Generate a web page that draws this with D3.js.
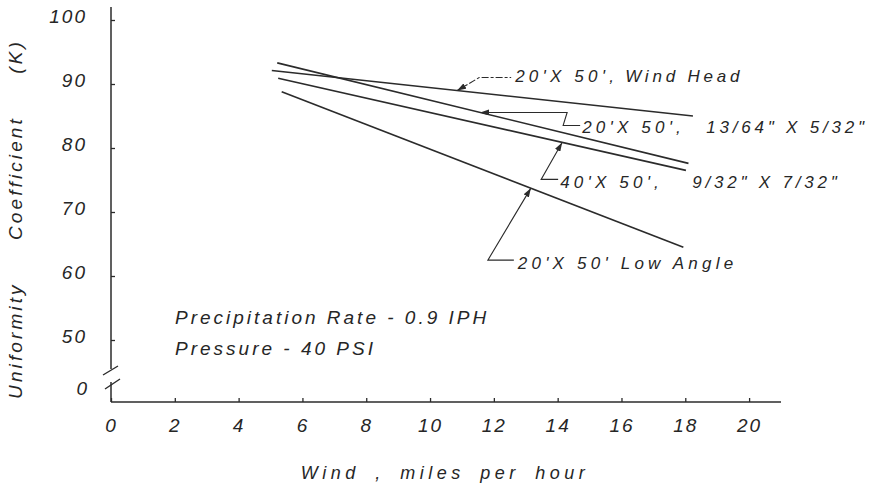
<!DOCTYPE html>
<html>
<head>
<meta charset="utf-8">
<script src="https://cdn.jsdelivr.net/npm/d3@7"></script>
<style>
    body { margin: 0; background: #fff; }
    text { font-family: "Liberation Sans", Arial, sans-serif; font-style: italic; fill: #262626; }
</style>
</head>
<body>
<div id="chart"></div>
<script>
// values (wind in mph, uniformity coefficient K)
const seriesNames = ["20'X 50', Wind Head", "20'X 50', 13/64\" X 5/32\"", "40'X 50', 9/32\" X 7/32\"", "20'X 50' Low Angle"];
const windStart = [5.04, 5.21, 5.24, 5.35];
const windEnd = [18.24, 18.1, 18.02, 17.94];
const kStart = [92.1, 93.3, 90.9, 88.8];
const kEnd = [85.0, 77.6, 76.5, 64.5];
const arrowWind = [10.85, 11.57, 14.14, 13.16];
const labelFirst = ["20'X 50',", "20'X 50',", "40'X 50',", "20'X 50' Low Angle"];
const labelSecond = ["Wind Head", "13/64\" X 5/32\"", "9/32\" X 7/32\"", ""];
const xTicks = [0, 2, 4, 6, 8, 10, 12, 14, 16, 18, 20];
const yTicks = [50, 60, 70, 80, 90, 100];
const notes = ["Precipitation Rate - 0.9 IPH", "Pressure - 40 PSI"];

// leader layout, relative to the arrow tip
const leaders = [
    { pts: [[0, 0], [22, -13], [54, -13]], tx: 58, ty: -9, tx2: 110, dash: "7,2,3,2" },
    { pts: [[0, 0], [87, 0], [83, 13], [100, 13]], tx: 102, ty: 21, tx2: 124, dash: null },
    { pts: [[0, 0], [-21, 37], [-4, 37]], tx: -2, ty: 46, tx2: 132, dash: null },
    { pts: [[0, 0], [-43, 72], [-17, 72]], tx: -13, ty: 81, tx2: 0, dash: null }
];

const width = 872, height = 487;
const x = d3.scaleLinear().domain([0, 21]).range([111, 781]);
const y = d3.scaleLinear().domain([50, 100]).range([340, 20]);
const baseY = 402;
const ink = "#2b2b2b";

const svg = d3.select("#chart").append("svg")
    .attr("width", width)
    .attr("height", height);

svg.append("defs").append("marker")
    .attr("id", "arrow")
    .attr("viewBox", "0 0 9 6")
    .attr("refX", 9)
    .attr("refY", 3)
    .attr("markerWidth", 9)
    .attr("markerHeight", 6)
    .attr("markerUnits", "userSpaceOnUse")
    .attr("orient", "auto-start-reverse")
    .append("path")
    .attr("d", "M0,0 L9,3 L0,6 Z")
    .attr("fill", ink);

// x axis
const xAxis = svg.append("g")
    .attr("transform", `translate(0,${baseY})`)
    .call(d3.axisBottom(x).tickValues(xTicks).tickSize(-4).tickFormat(d3.format("d")));
xAxis.select(".domain").remove();
xAxis.selectAll(".tick line").attr("stroke", ink).attr("stroke-width", 1.3);
xAxis.selectAll(".tick text")
    .attr("y", 30)
    .attr("dy", 0)
    .attr("font-size", 19)
    .attr("letter-spacing", 2)
    .attr("font-family", null);
svg.append("line")
    .attr("x1", x(0)).attr("x2", x(21))
    .attr("y1", baseY).attr("y2", baseY)
    .attr("stroke", ink).attr("stroke-width", 1.5);

// y axis (broken between 50 and 0)
const yAxis = svg.append("g")
    .attr("transform", `translate(${x(0)},0)`)
    .call(d3.axisLeft(y).tickValues(yTicks).tickSize(-4).tickPadding(24));
yAxis.select(".domain").remove();
yAxis.selectAll(".tick line").attr("stroke", ink).attr("stroke-width", 1.3);
yAxis.selectAll(".tick text")
    .attr("dy", "0.12em")
    .attr("font-size", 19)
    .attr("letter-spacing", 2)
    .attr("font-family", null);
svg.append("text")
    .attr("x", x(0) - 24)
    .attr("y", baseY - 7)
    .attr("text-anchor", "end")
    .attr("font-size", 19)
    .text("0");

svg.append("line")
    .attr("x1", x(0)).attr("x2", x(0))
    .attr("y1", 7).attr("y2", 369)
    .attr("stroke", ink).attr("stroke-width", 1.5);
svg.append("line")
    .attr("x1", x(0)).attr("x2", x(0))
    .attr("y1", 382).attr("y2", baseY)
    .attr("stroke", ink).attr("stroke-width", 1.5);
svg.append("path")
    .attr("d", `M${x(0) - 8},375 L${x(0) + 7},366 M${x(0) - 6},389 L${x(0) + 9},379`)
    .attr("fill", "none").attr("stroke", ink).attr("stroke-width", 1.4);

// axis titles
svg.append("text")
    .attr("x", 445)
    .attr("y", 479)
    .attr("text-anchor", "middle")
    .attr("font-size", 18)
    .attr("letter-spacing", 4.5)
    .attr("word-spacing", 6)
    .text("Wind , miles per hour");

svg.append("text")
    .attr("transform", "translate(22,219) rotate(-90)")
    .attr("text-anchor", "middle")
    .attr("font-size", 19)
    .attr("letter-spacing", 3.1)
    .attr("word-spacing", 34)
    .text("Uniformity Coefficient (K)");

// lines
const lineGen = d3.line().x(d => x(d[0])).y(d => y(d[1]));
seriesNames.forEach((name, i) => {
    svg.append("path")
        .datum([[windStart[i], kStart[i]], [windEnd[i], kEnd[i]]])
        .attr("d", lineGen)
        .attr("fill", "none")
        .attr("stroke", ink)
        .attr("stroke-width", 1.6);
});

// leaders and labels
seriesNames.forEach((name, i) => {
    const t = (arrowWind[i] - windStart[i]) / (windEnd[i] - windStart[i]);
    const tipX = x(arrowWind[i]);
    const tipY = y(kStart[i] + t * (kEnd[i] - kStart[i]));
    const L = leaders[i];
    const pts = L.pts.map(p => [tipX + p[0], tipY + p[1]]);

    svg.append("path")
        .attr("d", d3.line()(pts))
        .attr("fill", "none")
        .attr("stroke", ink)
        .attr("stroke-width", 1.1)
        .attr("stroke-dasharray", L.dash)
        .attr("marker-start", "url(#arrow)");

    svg.append("text")
        .attr("x", tipX + L.tx)
        .attr("y", tipY + L.ty)
        .attr("font-size", 17)
        .attr("letter-spacing", 4.2)
        .text(labelFirst[i]);
    if (labelSecond[i]) {
        svg.append("text")
            .attr("x", tipX + L.tx + L.tx2)
            .attr("y", tipY + L.ty)
            .attr("font-size", 17)
            .attr("letter-spacing", 3.8)
            .text(labelSecond[i]);
    }
});

// notes
notes.forEach((n, i) => {
    svg.append("text")
        .attr("x", 175)
        .attr("y", 324 + i * 31)
        .attr("font-size", 19)
        .attr("letter-spacing", 3)
        .text(n);
});
</script>
</body>
</html>
